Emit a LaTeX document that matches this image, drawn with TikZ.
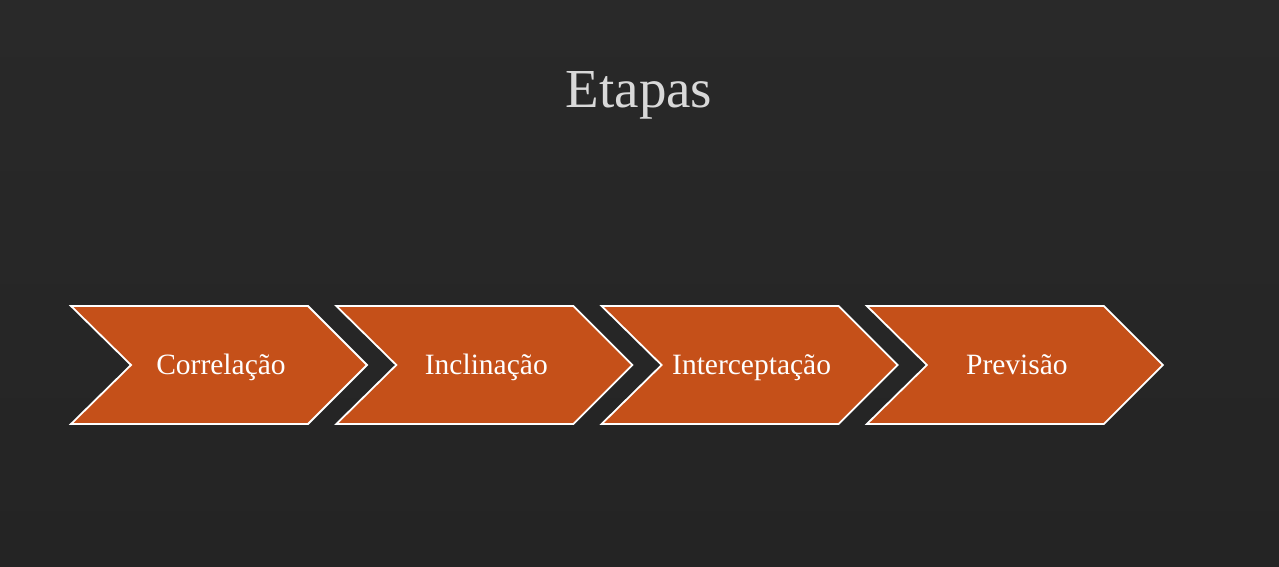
\documentclass[tikz,border=0pt]{standalone}
\usepackage{fontspec}
\setmainfont{Liberation Serif}
\definecolor{bgdark}{HTML}{242424}
\definecolor{bgtop}{HTML}{292929}
\definecolor{chevorange}{HTML}{C55019}
\definecolor{titlegray}{HTML}{D9D9D9}
\tikzset{
  chevron/.style={fill=chevorange, draw=white, line width=1.8pt, line join=miter},
  steplabel/.style={text=white, font=\fontsize{29.5}{34}\selectfont, inner sep=0pt, anchor=base},
}
\begin{document}
\begin{tikzpicture}[x=1pt,y=-1pt]
  \shade[top color=bgtop, bottom color=bgdark] (0,0) rectangle (1279,567);
  \useasboundingbox (0,0) rectangle (1279,567);
  \node[text=titlegray, font=\fontsize{55}{60}\selectfont, inner sep=0pt, anchor=base] (title) at (639,108) {Etapas};
  \foreach \i/\t in {0/Correlação,1/Inclinação,2/Interceptação,3/Previsão}{
    \pgfmathsetmacro{\xo}{71+265.3*\i}
    \draw[chevron] (\xo,306) -- ++(237,0) -- ++(59,59) -- ++(-59,59) -- ++(-237,0) -- ++(60,-59) -- cycle;
    \node[steplabel] (s\i) at (\xo+150,374) {\t};
  }
\end{tikzpicture}
\end{document}
